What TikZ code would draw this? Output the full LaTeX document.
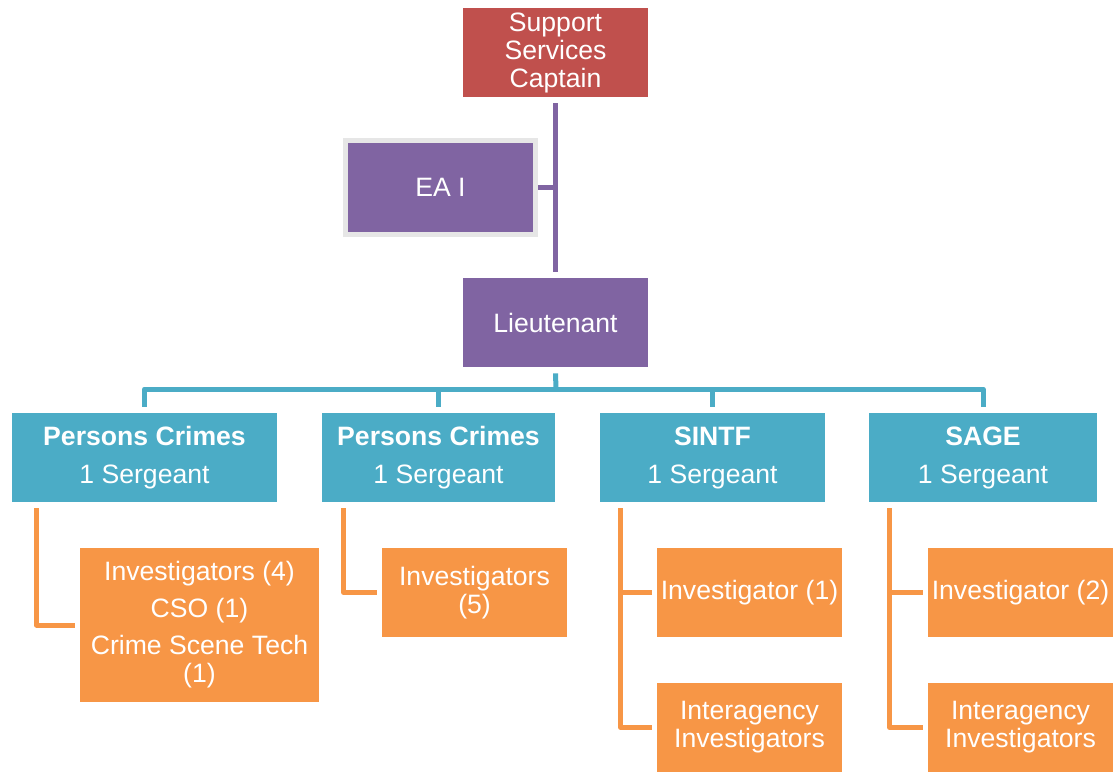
\documentclass[tikz,border=0pt]{standalone}
\usepackage{fontspec}
\setmainfont{Liberation Sans}
\usepackage{tikz}
\usetikzlibrary{positioning}
\definecolor{capred}{HTML}{C0504D}
\definecolor{ltpurple}{HTML}{8064A2}
\definecolor{sgtteal}{HTML}{4BACC6}
\definecolor{invorange}{HTML}{F79646}
\definecolor{eagray}{HTML}{E6E6E6}

\begin{document}
\begin{tikzpicture}[x=0.5pt,y=-0.5pt,
unit/.style={inner sep=0pt, align=center, text=white, font=\fontsize{13.3}{14}\selectfont, minimum width=92.5pt, minimum height=44.5pt},
captbox/.style={unit, fill=capred},
ltbox/.style={unit, fill=ltpurple},
sgtbox/.style={unit, fill=sgtteal, minimum height=44.5pt},
invbox/.style={unit, fill=invorange},
purpleline/.style={draw=ltpurple, line width=2.5pt},
tealline/.style={draw=sgtteal, line width=2.5pt, line join=round},
orangeline/.style={draw=invorange, line width=2.5pt, line join=round},
]
\useasboundingbox (0,0) rectangle (1113,771);

% command staff
\node[captbox] (capt) at (555.5,52.5) {Support\\Services\\Captain};
\node[ltbox, draw=eagray, line width=2.5pt, minimum width=95pt, minimum height=47pt] (ea) at (440.5,187.5) {EA I};
\node[ltbox] (lieut) at (555.5,322.5) {Lieutenant};

\draw[purpleline] ([yshift=-3pt]capt.south) -- ([yshift=3pt]lieut.north);
\draw[purpleline] (ea.east) -- (ea.east -| capt.south);

% sergeants
\node[sgtbox, minimum width=132.5pt] (pc1) at (144.5,457.5) {\textbf{Persons Crimes}\\[5pt]1 Sergeant};
\node[sgtbox, minimum width=116.5pt] (pc2) at (438.5,457.5) {\textbf{Persons Crimes}\\[5pt]1 Sergeant};
\node[sgtbox, minimum width=112.5pt] (sintf) at (712.5,457.5) {\textbf{SINTF}\\[5pt]1 Sergeant};
\node[sgtbox, minimum width=114pt] (sage) at (983,457.5) {\textbf{SAGE}\\[5pt]1 Sergeant};

\coordinate (bus) at (556,389);
\draw[tealline] ([yshift=-3pt]lieut.south) -- (bus);
\draw[tealline] ([yshift=3pt]pc1.north) |- (bus) -| ([yshift=3pt]sage.north);
\draw[tealline] ([yshift=3pt]pc2.north) -- (pc2.north |- bus);
\draw[tealline] ([yshift=3pt]sintf.north) -- (sintf.north |- bus);

% investigators
\node[invbox, minimum width=119.5pt, minimum height=77pt] (inv1) at (199.5,625) {Investigators (4)\\[4.5pt]CSO (1)\\[4.5pt]Crime Scene Tech\\(1)};
\node[invbox] (inv2) at (474.5,592.5) {Investigators\\(5)};
\node[invbox] (inv3) at (749.5,592.5) {Investigator (1)};
\node[invbox] (ia3) at (749.5,727.5) {Interagency\\Investigators};
\node[invbox] (inv4) at (1020.5,592.5) {Investigator (2)};
\node[invbox] (ia4) at (1020.5,727.5) {Interagency\\Investigators};

\coordinate (t1) at ([xshift=12.5pt,yshift=-3pt]pc1.south west);
\coordinate (t2) at ([xshift=11pt,yshift=-3pt]pc2.south west);
\coordinate (t3) at ([xshift=10.5pt,yshift=-3pt]sintf.south west);
\coordinate (t4) at ([xshift=10.5pt,yshift=-3pt]sage.south west);

\draw[orangeline] (t1) |- ([xshift=-2.5pt]inv1.west);
\draw[orangeline] (t2) |- ([xshift=-2.5pt]inv2.west);
\draw[orangeline] (t3) |- ([xshift=-2.5pt]ia3.west);
\draw[orangeline] (t3 |- inv3.west) -- ([xshift=-2.5pt]inv3.west);
\draw[orangeline] (t4) |- ([xshift=-2.5pt]ia4.west);
\draw[orangeline] (t4 |- inv4.west) -- ([xshift=-2.5pt]inv4.west);
\end{tikzpicture}
\end{document}
